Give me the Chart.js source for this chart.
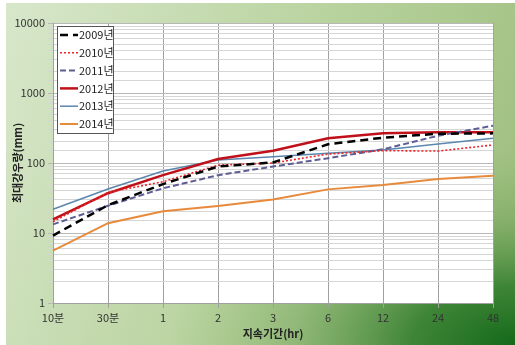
<!DOCTYPE html>
<html><head><meta charset="utf-8">
<script src="https://cdn.jsdelivr.net/npm/chart.js@4/dist/chart.umd.min.js"></script>
<style>html,body{margin:0;padding:0;background:#fff;}#wrap{width:515px;height:345px;position:relative;}</style>
</head><body><div id="wrap"><canvas id="c"></canvas></div>
<script>
const categories = ['10분','30분','1','2','3','6','12','24','48'];
const y2009 = [9.2, 25, 50, 89, 102, 185, 230, 262, 265];
const y2010 = [14.5, 38, 54, 93, 100, 134, 150, 148, 181];
const y2011 = [13.3, 24.5, 43.5, 67, 89, 117, 157, 245, 341];
const y2012 = [15.7, 37, 67, 114, 150, 225, 265, 274, 275];
const y2013 = [21.8, 42.5, 77, 110, 123, 138, 153, 187, 225];
const y2014 = [5.6, 13.8, 20.4, 24.3, 30, 42, 48.5, 59, 66];
const seriesNames = ['2009년','2010년','2011년','2012년','2013년','2014년'];
const yTickLabels = [1, 10, 100, 1000, 10000];

const FONT = "'Noto Sans CJK KR', 'Noto Sans', sans-serif";

const bgPlugin = {
  id: 'bg',
  beforeDraw(chart) {
    const ctx = chart.ctx, W = chart.width, H = chart.height;
    ctx.save();
    ctx.fillStyle = '#ffffff';
    ctx.fillRect(0, 0, W, H);
    let g = ctx.createLinearGradient(6, 3, W, H * 0.6);
    g.addColorStop(0, '#d8e7cb');
    g.addColorStop(0.55, '#b9d39f');
    g.addColorStop(1, '#9fbf80');
    ctx.fillStyle = g;
    ctx.fillRect(6, 3, W - 6, H - 3);
    ctx.translate(W, H);
    ctx.scale(1.5, 0.85);
    let r = ctx.createRadialGradient(0, 0, 0, 0, 0, 230);
    r.addColorStop(0, 'rgba(20,105,25,1)');
    r.addColorStop(0.3, 'rgba(45,122,42,0.85)');
    r.addColorStop(0.65, 'rgba(90,150,70,0.35)');
    r.addColorStop(1, 'rgba(120,170,90,0)');
    ctx.fillStyle = r;
    ctx.fillRect(-400, -400, 400, 400);
    ctx.restore();
    const a = chart.chartArea;
    ctx.save();
    ctx.fillStyle = '#ffffff';
    ctx.fillRect(a.left, a.top, a.right - a.left, a.bottom - a.top);
    ctx.restore();
  }
};

const legendPlugin = {
  id: 'customLegend',
  afterDraw(chart) {
    const ctx = chart.ctx;
    const a = chart.chartArea;
    const x0 = a.left + 4, y0 = a.top + 3, w = 56, h = 107;
    ctx.save();
    ctx.fillStyle = '#ffffff';
    ctx.fillRect(x0, y0, w, h);
    ctx.strokeStyle = '#555';
    ctx.lineWidth = 1;
    ctx.strokeRect(x0 + 0.5, y0 + 0.5, w, h);
    ctx.font = '11px ' + FONT;
    ctx.textBaseline = 'middle';
    chart.data.datasets.forEach((ds, i) => {
      const yy = y0 + 9 + i * 17.8;
      ctx.beginPath();
      ctx.setLineDash(ds.borderDash || []);
      ctx.strokeStyle = ds.borderColor;
      ctx.lineWidth = ds.borderWidth;
      ctx.moveTo(x0 + 3, yy);
      ctx.lineTo(x0 + 21, yy);
      ctx.stroke();
      ctx.setLineDash([]);
      ctx.fillStyle = '#222';
      ctx.fillText(ds.label, x0 + 22, yy);
    });
    ctx.restore();
  }
};

const styles = [
  {c: '#000000', w: 2.5, d: [8, 5]},
  {c: '#e8262a', w: 1.6, d: [2, 2]},
  {c: '#5e5e94', w: 2, d: [6, 3]},
  {c: '#c0101a', w: 2.5, d: []},
  {c: '#5b86ad', w: 1.5, d: []},
  {c: '#e88a3c', w: 2, d: []}
];
const allSeries = [y2009, y2010, y2011, y2012, y2013, y2014];

new Chart(document.getElementById('c'), {
  type: 'line',
  data: {
    labels: categories,
    datasets: allSeries.map((s, i) => ({
      label: seriesNames[i],
      data: s,
      borderColor: styles[i].c,
      backgroundColor: styles[i].c,
      borderWidth: styles[i].w,
      borderDash: styles[i].d,
      pointRadius: 0,
      tension: 0,
      fill: false
    }))
  },
  options: {
    responsive: true,
    maintainAspectRatio: false,
    animation: false,
    devicePixelRatio: 1,
    layout: {padding: {left: 6, top: 23, right: 22, bottom: 0}},
    plugins: {legend: {display: false}, tooltip: {enabled: false}},
    scales: {
      x: {
        type: 'category',
        offset: false,
        grid: {color: '#a0a0a0', lineWidth: 1, tickLength: 5, drawTicks: true},
        border: {color: '#a0a0a0'},
        ticks: {color: '#333', font: {family: FONT, size: 11}, padding: 3, maxRotation: 0, autoSkip: false},
        title: {display: true, text: '지속기간(hr)', color: '#222', font: {family: FONT, size: 11, weight: 'bold'}, padding: {top: 0, bottom: 5}},
        afterFit(axis) { axis.height = 42; }
      },
      y: {
        type: 'logarithmic',
        min: 1,
        max: 10000,
        grid: {
          color: (ctx) => {
            const v = ctx.tick && ctx.tick.value;
            return yTickLabels.includes(v) ? '#b8b8b8' : '#d6d6d6';
          },
          lineWidth: 1,
          tickLength: 5
        },
        border: {color: '#a0a0a0'},
        ticks: {
          color: '#333',
          font: {family: FONT, size: 11},
          padding: 3,
          autoSkip: false,
          callback: (v) => yTickLabels.includes(v) ? String(v) : ''
        },
        title: {display: true, text: '최대강우량(mm)', color: '#222', font: {family: FONT, size: 11, weight: 'bold'}, padding: {top: 5, bottom: 0}},
        afterFit(axis) { axis.width = 47; }
      }
    }
  },
  plugins: [bgPlugin, legendPlugin]
});
</script></body></html>
